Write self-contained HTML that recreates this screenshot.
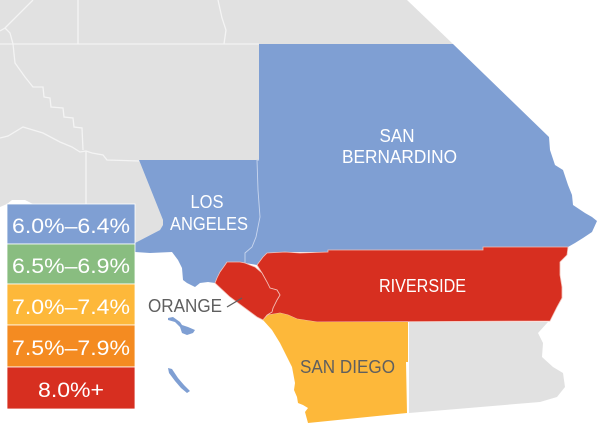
<!DOCTYPE html>
<html><head><meta charset="utf-8"><style>
html,body{margin:0;padding:0;background:#fff;}
svg{display:block;}
text{font-family:"Liberation Sans",sans-serif;}
</style></head><body>
<svg width="600" height="437" viewBox="0 0 600 437" xmlns="http://www.w3.org/2000/svg">
<rect width="600" height="437" fill="#fff"/>
<!-- gray background land -->
<polygon fill="#e1e1e1" points="0,0 407,0 453,44 259,44 259,160 139,160 163,220 163,225 160,230 135,243 135,204 33,204 25,200 12,200 7,204 0,207"/>
<!-- county lines in gray -->
<g fill="none" stroke="#f4f4f4" stroke-width="1.3">
<polyline points="0,44 259,44"/>
<polyline points="78,0 78,44"/>
<polyline points="33,0 5,28 0,31"/>
<polyline points="5,28 10,33 13,44 15,63 25,77 33,87 43,87 44,97 50,98 51,107 63,108 64,117 73,118 74,127 82,128 83,150"/>
<polyline points="0,138 8,136 23,127 43,133 60,142 72,147 80,152 86,151 92,153 103,155 107,160 139,161"/>
<polyline points="86,151 86,204"/>
<polyline points="218,0 222,18 226,30 224,44"/>
</g>
<!-- LA + San Bernardino -->
<polygon fill="#7f9fd3" points="139,160 259,160 259,44 453,44 549,137 550,150 555,165 563,170 568,185 572,195 573,205 585,213 592,217 597,221 592,232 583,238 575,243 568,247 483,247 483,250 328,250 328,252 285,252 267,253 263,257 257,265 245,263 240,262 227,262 225,265 220,272 217,278 215,283 208,282 200,283 195,287 187,283 183,280 182,268 178,260 172,252 150,253 135,252 135,243 160,230 163,225 163,220"/>
<!-- LA/SB boundary -->
<polyline fill="none" stroke="#c9d6ee" stroke-width="0.9" points="259,160 257,160 258,190 260,217 256,237 252,247 245,253 245,263"/>
<!-- Riverside -->
<polygon fill="#d72f20" stroke="#f3c0b8" stroke-width="0.8" points="257,265 263,257 267,253 285,252 300,253 328,252 328,250 483,250 483,247 568,247 567,255 560,262 560,275 562,287 562,298 557,307 550,321 317,322 297,319 288,315 280,313 268,315 263,320 267,315 272,312 273,308 277,300 280,295 277,290 270,288 267,282 262,273"/>
<!-- Orange -->
<polygon fill="#d72f20" stroke="#f3c0b8" stroke-width="0.8" points="215,283 217,278 220,272 225,265 227,262 240,262 245,263 255,267 262,273 267,282 270,288 277,290 280,295 277,300 273,308 272,312 267,315 263,320 257,317 230,297"/>
<!-- San Diego -->
<polygon fill="#fdb83a" points="263,320 268,315 280,313 288,315 297,319 317,322 408,322 408,362 406,362 407,413 308,423 305,412 308,408 303,405 298,403 297,397 294,390 295,383 292,367 287,357 280,343 272,330"/>
<!-- Imperial -->
<polygon fill="#e1e1e1" points="409,322 548,322 538,333 543,343 542,357 553,367 563,373 565,387 557,397 540,402 409,413"/>
<!-- islands -->
<polygon fill="#7f9fd3" points="168,318 173,317 180,322 182,325 188,327 195,330 193,333 187,335 182,333 180,327 175,322 168,320"/>
<polygon fill="#7f9fd3" points="168,368 172,369 178,378 184,385 190,391 187,393 181,388 175,381 169,373"/>
<!-- leader line -->
<line x1="227" y1="307" x2="242" y2="298" stroke="#5f5f5f" stroke-width="1.3"/>
<!-- labels -->
<g fill="#fff" font-size="18">
<text x="397" y="142" text-anchor="middle" textLength="35" lengthAdjust="spacingAndGlyphs">SAN</text>
<text x="399.5" y="163" text-anchor="middle" textLength="115" lengthAdjust="spacingAndGlyphs">BERNARDINO</text>
<text x="207" y="208" text-anchor="middle" textLength="33" lengthAdjust="spacingAndGlyphs">LOS</text>
<text x="209" y="230" text-anchor="middle" textLength="78" lengthAdjust="spacingAndGlyphs">ANGELES</text>
<text x="422.5" y="292" text-anchor="middle" textLength="87" lengthAdjust="spacingAndGlyphs">RIVERSIDE</text>
</g>
<g fill="#5f5f5f" font-size="18">
<text x="148" y="312" textLength="74" lengthAdjust="spacingAndGlyphs">ORANGE</text>
<text x="300" y="373" textLength="95" lengthAdjust="spacingAndGlyphs">SAN DIEGO</text>
</g>
<!-- legend -->
<g stroke="#fff" stroke-width="0.8">
<rect x="7" y="204" width="128" height="40" fill="#7f9fd3"/>
<rect x="7" y="244" width="128" height="40" fill="#89bd80"/>
<rect x="7" y="284" width="128" height="41" fill="#fdb83a"/>
<rect x="7" y="325" width="128" height="42" fill="#f48b21"/>
<rect x="7" y="367" width="128" height="42" fill="#d72f20"/>
</g>
<g fill="#fff" font-size="21.5" text-anchor="middle">
<text x="71" y="233" textLength="118" lengthAdjust="spacingAndGlyphs">6.0%–6.4%</text>
<text x="71" y="273" textLength="118" lengthAdjust="spacingAndGlyphs">6.5%–6.9%</text>
<text x="71" y="314" textLength="118" lengthAdjust="spacingAndGlyphs">7.0%–7.4%</text>
<text x="71" y="355" textLength="118" lengthAdjust="spacingAndGlyphs">7.5%–7.9%</text>
<text x="71" y="397" textLength="66" lengthAdjust="spacingAndGlyphs">8.0%+</text>
</g>
</svg>
</body></html>
